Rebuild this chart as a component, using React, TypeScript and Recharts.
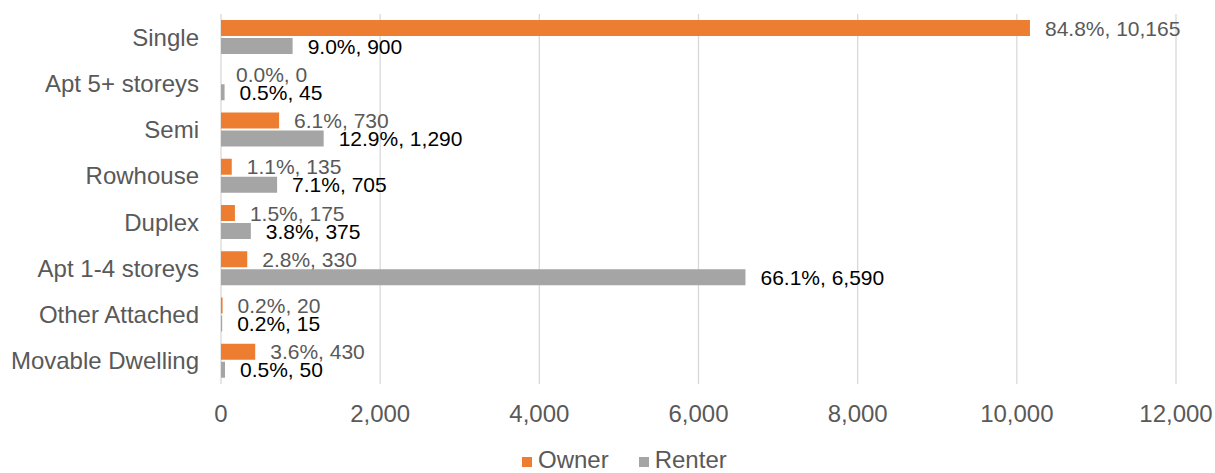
import { Bar, BarChart, CartesianGrid, LabelList, Legend, XAxis, YAxis } from "recharts";

const categories = [
  "Single",
  "Apt 5+ storeys",
  "Semi",
  "Rowhouse",
  "Duplex",
  "Apt 1-4 storeys",
  "Other Attached",
  "Movable Dwelling",
];
const ownerCounts = [10165, 0, 730, 135, 175, 330, 20, 430];
const ownerShares = [84.8, 0.0, 6.1, 1.1, 1.5, 2.8, 0.2, 3.6];
const renterCounts = [900, 45, 1290, 705, 375, 6590, 15, 50];
const renterShares = [9.0, 0.5, 12.9, 7.1, 3.8, 66.1, 0.2, 0.5];
const xTicks = [0, 2000, 4000, 6000, 8000, 10000, 12000];

const ORANGE = "#ED7D31";
const GRAY = "#A5A5A5";
const TEXT = "#595959";
const FONT = "'Liberation Sans', Arial, sans-serif";

const fmt = (v: number) => v.toLocaleString("en-US");

const data = categories.map((name, i) => ({
  name,
  owner: ownerCounts[i],
  renter: renterCounts[i],
  ownerLabel: `${ownerShares[i].toFixed(1)}%, ${fmt(ownerCounts[i])}`,
  renterLabel: `${renterShares[i].toFixed(1)}%, ${fmt(renterCounts[i])}`,
}));

function makeLabel(color: string) {
  return (props: any) => {
    const { x, y, width, height, value } = props;
    return (
      <text
        x={x + width + 15}
        y={y + height / 2}
        dy="0.36em"
        fill={color}
        fontSize={21}
        fontFamily={FONT}
      >
        {value}
      </text>
    );
  };
}

function LegendBox() {
  const items = [
    { label: "Owner", color: ORANGE },
    { label: "Renter", color: GRAY },
  ];
  return (
    <div
      style={{
        height: 30,
        display: "flex",
        alignItems: "flex-end",
        paddingLeft: 522,
        fontFamily: FONT,
        fontSize: 24,
        lineHeight: "26px",
        color: TEXT,
      }}
    >
      {items.map((it) => (
        <span key={it.label} style={{ display: "inline-flex", alignItems: "center", marginRight: 30 }}>
          <span style={{ width: 10, height: 10, background: it.color, marginRight: 6, marginTop: 3 }} />
          {it.label}
        </span>
      ))}
    </div>
  );
}

export default function App() {
  return (
    <div style={{ position: "absolute", left: 0, top: 0, background: "#fff" }}>
      <BarChart
        width={1215}
        height={473}
        data={data}
        layout="vertical"
        margin={{ top: 14, right: 39, bottom: 0, left: 0 }}
        barSize={16}
        barGap={2}
      >
        <CartesianGrid horizontal={false} stroke="#D9D9D9" strokeWidth={1.3} />
        <XAxis
          type="number"
          domain={[0, 12000]}
          ticks={xTicks}
          tickFormatter={fmt}
          axisLine={false}
          tickLine={false}
          tickSize={0}
          tickMargin={21}
          height={59}
          interval={0}
          tick={{ fill: TEXT, fontSize: 24, fontFamily: FONT }}
        />
        <YAxis
          type="category"
          dataKey="name"
          width={221}
          axisLine={false}
          tickLine={false}
          tickSize={0}
          tickMargin={22}
          interval={0}
          tick={{ fill: TEXT, fontSize: 24, fontFamily: FONT }}
        />
        <Legend verticalAlign="bottom" content={() => <LegendBox />} />
        <Bar dataKey="owner" name="Owner" fill={ORANGE} minPointSize={0.01} isAnimationActive={false}>
          <LabelList dataKey="ownerLabel" content={makeLabel(TEXT)} />
        </Bar>
        <Bar dataKey="renter" name="Renter" fill={GRAY} minPointSize={0.01} isAnimationActive={false}>
          <LabelList dataKey="renterLabel" content={makeLabel("#000")} />
        </Bar>
      </BarChart>
    </div>
  );
}
